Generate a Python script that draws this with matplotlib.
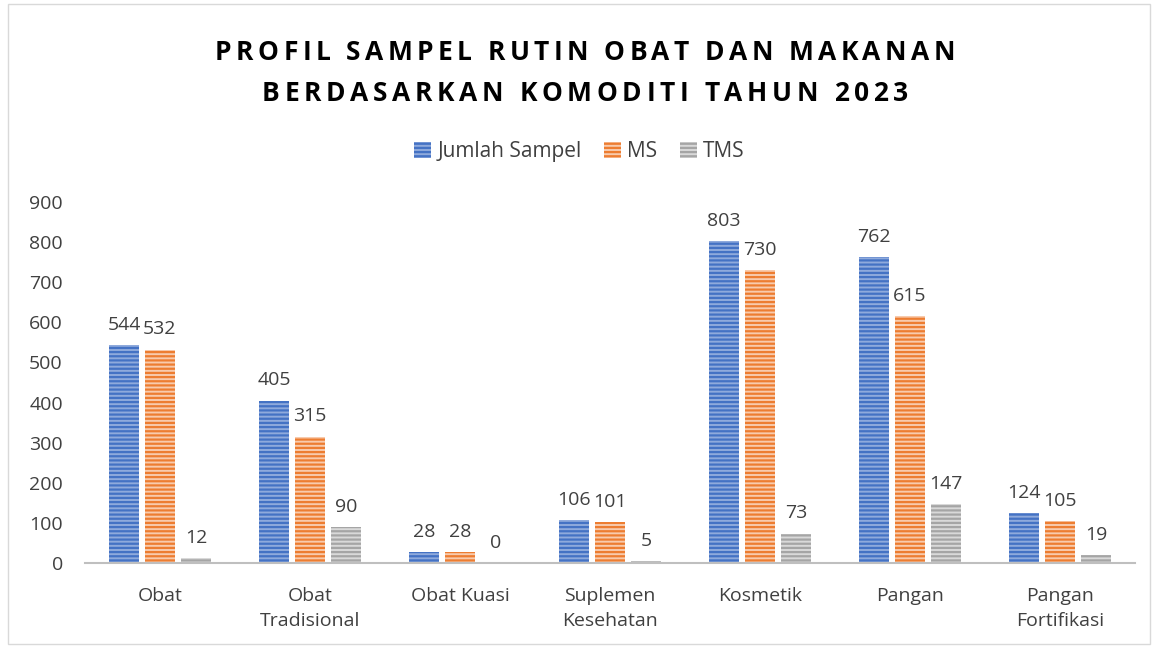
import matplotlib
import numpy as np

matplotlib.use("Agg")
import matplotlib.pyplot as plt
from matplotlib.font_manager import FontProperties, findfont
from matplotlib.ft2font import FT2Font

plt.rcParams["font.family"] = ["Open Sans", "DejaVu Sans"]
plt.rcParams["hatch.linewidth"] = 1.6

categories = ["Obat", "Obat\nTradisional", "Obat Kuasi", "Suplemen\nKesehatan",
              "Kosmetik", "Pangan", "Pangan\nFortifikasi"]
jumlah = [544, 405, 28, 106, 803, 762, 124]
ms = [532, 315, 28, 101, 730, 615, 105]
tms = [12, 90, 0, 5, 73, 147, 19]
series = [("Jumlah Sampel", jumlah, "#8FAADC", "#4472C4"),
          ("MS", ms, "#F8CBAD", "#ED7D31"),
          ("TMS", tms, "#D9D9D9", "#A5A5A5")]
title_lines = ["PROFIL SAMPEL RUTIN OBAT DAN MAKANAN",
               "BERDASARKAN KOMODITI TAHUN 2023"]

W, H = 1159, 648
fig = plt.figure(figsize=(W / 100, H / 100), dpi=100)
ax = fig.add_axes([85 / W, 85 / H, 1050 / W, 361 / H])

x = np.arange(len(categories))
w = 0.2
for i, (name, vals, face, hatch_c) in enumerate(series):
    pos = x + (i - 1) * 0.24
    ax.bar(pos, vals, w, color=face, edgecolor=hatch_c, hatch="----",
           linewidth=0, label=name)
    for p, v in zip(pos, vals):
        ax.text(p, v + 28, f"{v}", ha="center", va="bottom",
                fontsize=14, color="#404040")

ax.set_xlim(-0.5, len(categories) - 0.5)
ax.set_ylim(0, 900)
ax.set_yticks(range(0, 901, 100))
ax.set_xticks(x)
ax.set_xticklabels(categories, fontsize=14, color="#404040", linespacing=1.5)
ax.tick_params(axis="y", labelsize=14, labelcolor="#404040", length=0, pad=16)
ax.tick_params(axis="x", length=0, pad=17)
for s in ["top", "right", "left"]:
    ax.spines[s].set_visible(False)
ax.spines["bottom"].set_color("#BFBFBF")
ax.spines["bottom"].set_linewidth(1.5)

# judul dengan jarak huruf lebar (per karakter)
prop = FontProperties(family="Open Sans", weight="bold", size=19)
font = FT2Font(findfont(prop))
font.set_size(19, 100)
spans = [(215, 955, 60), (262, 908, 101)]  # kiri, kanan, baseline (px)
for line, (left, right, base) in zip(title_lines, spans):
    adv = []
    for c in line:
        g = font.load_char(ord(c))
        adv.append(g.linearHoriAdvance / 65536)
    gap = ((right - left) - sum(adv)) / (len(line) - 1)
    cx = left
    for c, a in zip(line, adv):
        if c != " ":
            fig.text(cx / W, 1 - base / H, c, ha="left", va="baseline",
                     fontproperties=prop, color="black")
        cx += a + gap

fig.legend(loc="center", bbox_to_anchor=(0.5, 1 - 152 / H), ncol=3,
           frameon=False, fontsize=15, handlelength=0.8, handleheight=0.8,
           columnspacing=1.1, handletextpad=0.3, labelcolor="#404040")

border = plt.Rectangle((8 / W, 4 / H), 1142 / W, 640 / H,
                       transform=fig.transFigure, fill=False,
                       edgecolor="#D9D9D9", linewidth=1)
fig.patches.append(border)

fig.savefig("out.png", dpi=100)
